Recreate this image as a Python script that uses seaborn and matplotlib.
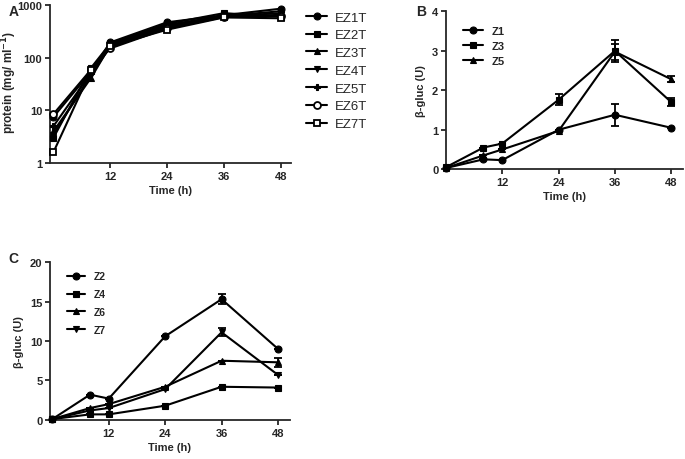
import numpy as np
import pandas as pd
import matplotlib
matplotlib.use("Agg")
import matplotlib.pyplot as plt
import seaborn as sns

# sampling times (h)
time = [0, 8, 12, 24, 36, 48]

# panel A: protein (mg/ml)
ez_names = ["EZ1T", "EZ2T", "EZ3T", "EZ4T", "EZ5T", "EZ6T", "EZ7T"]
ez1t = [7.5, 55, 195, 470, 640, 850]
ez2t = [3.0, 65, 185, 440, 700, 600]
ez3t = [4.0, 42, 170, 400, 610, 700]
ez4t = [3.5, 48, 160, 380, 600, 650]
ez5t = [5.0, 52, 175, 420, 620, 760]
ez6t = [8.5, 60, 150, 360, 590, 620]
ez7t = [1.6, 58, 165, 340, 580, 560]

# panel B: beta-glucosidase (U)
b_names = ["Z1", "Z3", "Z5"]
z1 = [0.03, 0.25, 0.23, 1.00, 1.38, 1.05]
z3 = [0.05, 0.55, 0.65, 1.76, 3.00, 1.70]
z5 = [0.03, 0.35, 0.50, 0.97, 2.98, 2.28]
z1_err = [0, 0, 0, 0, 0.28, 0]
z3_err = [0, 0, 0, 0.14, 0.27, 0.10]
z5_err = [0, 0, 0, 0, 0.20, 0.08]

# panel C: beta-glucosidase (U)
c_names = ["Z2", "Z4", "Z6", "Z7"]
z2 = [0.1, 3.2, 2.7, 10.6, 15.3, 9.0]
z4 = [0.1, 0.7, 0.7, 1.8, 4.2, 4.1]
z6 = [0.1, 1.5, 2.0, 4.2, 7.5, 7.3]
z7 = [0.1, 1.2, 1.5, 3.9, 11.1, 5.7]
z2_err = [0, 0, 0, 0, 0.6, 0]
z4_err = [0, 0, 0, 0, 0, 0]
z6_err = [0, 0, 0, 0, 0, 0.6]
z7_err = [0, 0, 0, 0, 0.5, 0]

sns.set_style("ticks")
plt.rcParams['font.family'] = ['Liberation Sans', 'DejaVu Sans']
plt.rcParams['font.weight'] = 'bold'
plt.rcParams['axes.linewidth'] = 1.3
plt.rcParams['xtick.major.width'] = 1.3
plt.rcParams['ytick.major.width'] = 1.3
plt.rcParams['xtick.major.size'] = 3.5
plt.rcParams['ytick.major.size'] = 3.5

fig = plt.figure(figsize=(6.85, 4.6), dpi=100)
axA = fig.add_axes([0.073, 0.643, 0.352, 0.344])
axB = fig.add_axes([0.651, 0.630, 0.346, 0.343])
axC = fig.add_axes([0.073, 0.085, 0.350, 0.343])


def draw(ax, name, vals, marker, open_marker=False, err=None, ms=5):
    sns.lineplot(x=time, y=vals, ax=ax, color='black', marker=marker,
                 markersize=ms, markeredgecolor='black',
                 markerfacecolor='white' if open_marker else 'black',
                 markeredgewidth=1.3 if open_marker else 0.8,
                 linewidth=1.5, label=name, clip_on=False, zorder=3)
    if err is not None:
        ax.errorbar(time, vals, yerr=err, fmt='none', ecolor='black',
                    elinewidth=1.3, capsize=3, capthick=1.3, zorder=2)


def style_axis(ax):
    sns.despine(ax=ax)
    ax.set_xticks([12, 24, 36, 48])
    ax.set_xlabel("Time (h)", fontsize=8, fontweight='bold', labelpad=3)
    ax.tick_params(labelsize=8, direction='out', pad=2)
    for lab in ax.get_xticklabels() + ax.get_yticklabels():
        lab.set_fontweight('bold')


# panel A
a_series = [ez1t, ez2t, ez3t, ez4t, ez5t, ez6t, ez7t]
a_markers = ['o', 's', '^', 'v', 'P', 'o', 's']
a_open = [False, False, False, False, False, True, True]
for name, vals, m, op in zip(ez_names, a_series, a_markers, a_open):
    draw(axA, name, vals, m, op, ms=5 if m != 'P' else 4)
axA.set_yscale('log')
axA.set_ylim(1, 1000)
axA.set_xlim(-0.7, 50.2)
axA.set_yticks([1, 10, 100, 1000])
axA.set_yticklabels(["1", "10", "100", "1000"])
axA.yaxis.set_minor_locator(matplotlib.ticker.NullLocator())
axA.set_ylabel("protein (mg/ ml$^{\\mathbf{-1}}$)", fontsize=8.5,
               fontweight='bold')
axA.yaxis.set_label_coords(-0.128, 0.52)
style_axis(axA)
axA.legend(loc='upper left', bbox_to_anchor=(1.03, 1.01), frameon=False,
           prop={'size': 9.5, 'weight': 'normal'}, handlelength=1.6,
           labelspacing=0.42, borderaxespad=0.2, handletextpad=0.6)

# panel B
for name, vals, m, e in zip(b_names, [z1, z3, z5], ['o', 's', '^'],
                            [z1_err, z3_err, z5_err]):
    draw(axB, name, vals, m, err=e)
axB.set_ylim(0, 4)
axB.set_xlim(0, 50.5)
axB.set_yticks([0, 1, 2, 3, 4])
axB.set_ylabel("β-gluc (U)", fontsize=8, fontweight='bold', labelpad=4)
style_axis(axB)
axB.legend(loc='upper left', bbox_to_anchor=(0.03, 0.97), frameon=False,
           prop={'size': 8, 'weight': 'bold'}, handlelength=1.8,
           labelspacing=0.45)

# panel C
for name, vals, m, e in zip(c_names, [z2, z4, z6, z7], ['o', 's', '^', 'v'],
                            [z2_err, z4_err, z6_err, z7_err]):
    draw(axC, name, vals, m, err=e)
axC.set_ylim(0, 20)
axC.set_xlim(-0.5, 50.5)
axC.set_yticks([0, 5, 10, 15, 20])
axC.set_ylabel("β-gluc (U)", fontsize=8, fontweight='bold', labelpad=4)
style_axis(axC)
axC.legend(loc='upper left', bbox_to_anchor=(0.03, 1.0), frameon=False,
           prop={'size': 7.5, 'weight': 'bold'}, handlelength=1.8,
           labelspacing=0.75)

fig.text(0.012, 0.975, "A", fontsize=10, fontweight='bold', va='center')
fig.text(0.608, 0.975, "B", fontsize=10, fontweight='bold', va='center')
fig.text(0.012, 0.437, "C", fontsize=10, fontweight='bold', va='center')

fig.savefig("out.png", dpi=100)
plt.close(fig)
